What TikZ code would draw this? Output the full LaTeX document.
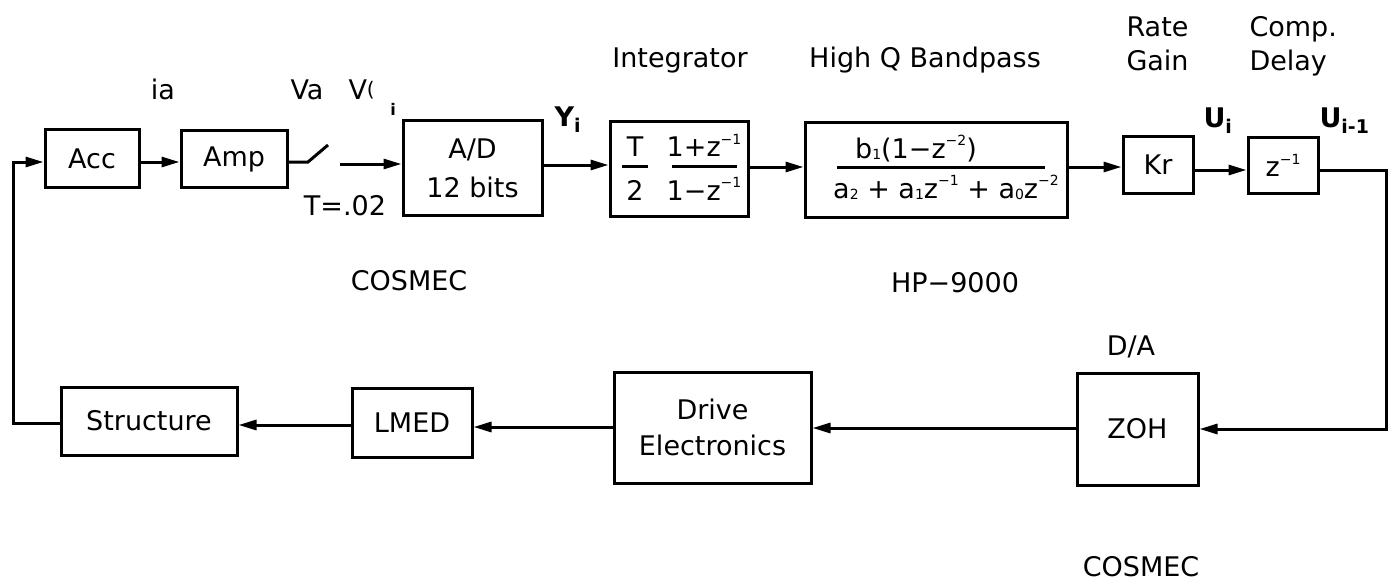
\documentclass[tikz,border=0pt]{standalone}
\usepackage{fontspec}
\setmainfont{DejaVu Sans}
\usetikzlibrary{arrows.meta}
\newcommand\fs{\fontsize{27}{33}\selectfont}
\newcommand\sps[1]{\raisebox{0.45em}{\fontsize{14}{14}\selectfont #1}}
\newcommand\sbs[1]{\raisebox{-0.05em}{\fontsize{14}{14}\selectfont #1}}
\newcommand\bx[6]{\node[box,minimum width={#4pt-#2pt},minimum height={#5pt-#3pt}] (#1) at ({(#2+#4)/2},{(#3+#5)/2}) {#6};}
\begin{document}
\begin{tikzpicture}[x=1pt,y=-1pt,line width=3pt,
  every node/.style={font=\fs,inner sep=0pt},
  box/.style={draw,rectangle,align=center},
  arr/.style={-{Triangle[length=18pt,width=10pt]}},
  lbl/.style={anchor=base},
  lblw/.style={anchor=base west},
  fracline/.style={line width=3pt}]
\useasboundingbox (0,0) rectangle (1394,583);
% top row boxes
\bx{acc}{45}{130}{139}{187}{Acc}
\bx{amp}{181}{131}{287}{187}{Amp}
\node[box,minimum width=139pt,minimum height=94pt,font=\fontsize{27}{39}\selectfont] (ad) at (472.5,168) {A/D\\12 bits};
\bx{int}{610}{122}{748}{216}{}
\bx{bp}{805}{123}{1067}{217}{}
\bx{kr}{1123}{137}{1193}{193}{Kr}
\bx{zd}{1248}{138}{1318}{193}{z\sps{−1}}
% bottom row boxes
\bx{zoh}{1077}{373}{1198}{485}{ZOH}
\node[box,minimum width=197pt,minimum height=111pt,font=\fontsize{27}{36}\selectfont] (drive) at (712.5,427.5) {Drive\\Electronics};
\bx{lmed}{352}{388}{472}{457}{LMED}
\bx{struct}{61}{387}{237}{455}{Structure}
% integrator contents
\node[lbl] (iT) at (635,157) {T};
\node[lbl] (i2) at (635,200) {2};
\draw[fracline] (622,166) -- (648,166);
\node[lbl] (inum) at (704,157) {1+z\sps{−1}};
\node[lbl] (iden) at (704,200) {1−z\sps{−1}};
\draw[fracline] (672,166) -- (737,166);
% bandpass contents
\node[lbl] (bnum) at (916,158) {b\sbs{1}(1−z\sps{−2})};
\node[lbl] (bden) at (946,198) {a\sbs{2} + a\sbs{1}z\sps{−1} + a\sbs{0}z\sps{−2}};
\draw[fracline] (837,167) -- (1045,167);
% labels
\node[lbl] (lia) at (163,100) {ia};
\node[lbl] (lva) at (307,100) {Va};
\node[lblw] (lvd) at (347,100) {V\raisebox{3pt}{\fontsize{20}{20}\selectfont(}};
\node (ltick) at (393,109) {\fontsize{16}{16}\selectfont\bfseries i};
\node[lbl] (lT) at (345,215) {T=.02};
\node[lblw] (lY) at (553,127) {\bfseries Y\textsubscript{i}};
\node[lbl] (lint) at (680,68) {Integrator};
\node[lbl] (lbp) at (925,68) {High Q Bandpass};
\node[lblw] (lrate) at (1125,37) {Rate};
\node[lblw] (lgain) at (1125,71) {Gain};
\node[lblw] (lcomp) at (1248,37) {Comp.};
\node[lblw] (ldelay) at (1248,71) {Delay};
\node[lblw] (lui) at (1202,128) {\bfseries U\textsubscript{i}};
\node[lblw] (luim) at (1318,128) {\bfseries U\textsubscript{i-1}};
\node[lbl] (lcos1) at (409,290) {COSMEC};
\node[lbl] (lhp) at (955,292) {HP−9000};
\node[lbl] (lda) at (1131,355) {D/A};
\node[lbl] (lcos2) at (1141,576) {COSMEC};
% connectors
\coordinate (sw1) at (308,162);
\coordinate (sw2) at (328,145);
\coordinate (swo) at (340,164);
\coordinate (fb1) at (13,423);
\coordinate (fb2) at (13,162);
\coordinate (rt1) at (1386,170);
\coordinate (rt2) at (1386,429);
\draw[arr] (acc.east |- 0,162) -- (amp.west |- 0,162);
\draw (amp.east |- sw1) -- (sw1) -- (sw2);
\draw[arr] (swo) -- (ad.west |- swo);
\draw[arr] (ad.east |- 0,165) -- (int.west |- 0,165);
\draw[arr] (int.east |- 0,167) -- (bp.west |- 0,167);
\draw[arr] (bp.east |- 0,167) -- (kr.west |- 0,167);
\draw[arr] (kr.east |- 0,170) -- (zd.west |- 0,170);
\draw[arr] (zd.east |- rt1) -- (rt1) -- (rt2) -- (zoh.east |- rt2);
\draw[arr] (zoh.west |- 0,428) -- (drive.east |- 0,428);
\draw[arr] (drive.west |- 0,427) -- (lmed.east |- 0,427);
\draw[arr] (lmed.west |- 0,425) -- (struct.east |- 0,425);
\draw[arr] (struct.west |- fb1) -- (fb1) -- (fb2) -- (acc.west |- fb2);
\end{tikzpicture}
\end{document}
